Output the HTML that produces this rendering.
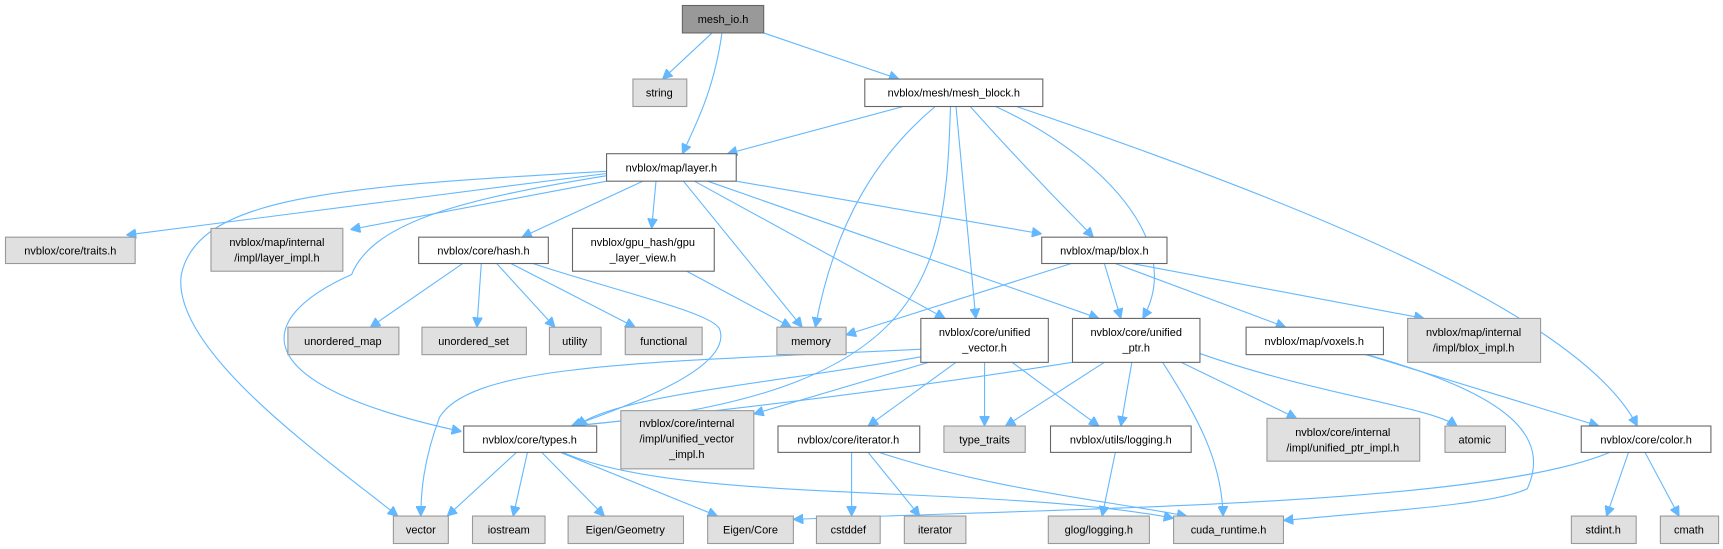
<!DOCTYPE html>
<html><head><meta charset="utf-8"><style>
html,body{margin:0;padding:0;background:#fff;}
svg{display:block;}
text{font-family:"Liberation Sans",sans-serif;font-size:10px;fill:#000;text-anchor:middle;}
.w{fill:#fff;stroke:#666;stroke-width:1;}
.g{fill:#e0e0e0;stroke:#999;stroke-width:1;}
.d{fill:#999;stroke:#666;stroke-width:1;}
path{fill:none;stroke:#63b8ff;stroke-width:1;}
</style></head><body>
<svg width="1723" height="549" viewBox="0 0 1568 500" preserveAspectRatio="none" xmlns="http://www.w3.org/2000/svg">
<defs><marker id="a" viewBox="0 0 10 10" refX="10" refY="5" markerWidth="9" markerHeight="9" orient="auto" markerUnits="userSpaceOnUse"><path d="M0,0 L10,5 L0,10 z" style="fill:#63b8ff;stroke:#63b8ff"/></marker></defs>
<g marker-end="url(#a)">
<path d="M648,30 L603,72"/>
<path d="M657,30 C650,80 635,110 621,140"/>
<path d="M695,30 L818,72"/>
<path d="M822,97 L662,140"/>
<path d="M851,97 C800,140 760,200 742,298"/>
<path d="M865,97 C860,250 850,360 520,388"/>
<path d="M870,97 L888,290"/>
<path d="M883,97 C930,150 970,190 995,216"/>
<path d="M906,97 C1000,140 1080,220 1040,290"/>
<path d="M925,97 C1200,190 1440,290 1490,388"/>
<path d="M552,158 L115,214"/>
<path d="M552,165 L319,209"/>
<path d="M552,156 C300,170 180,180 165,250 C155,320 300,420 362,470"/>
<path d="M552,160 C430,180 340,200 320,250 C230,290 220,350 420,393"/>
<path d="M585,165 L475,216"/>
<path d="M597,165 L593,208"/>
<path d="M622,165 L730,298"/>
<path d="M632,165 L860,290"/>
<path d="M644,165 L1000,290"/>
<path d="M670,165 L948,213"/>
<path d="M421,240 L337,298"/>
<path d="M438,240 L434,298"/>
<path d="M452,240 L505,298"/>
<path d="M465,240 L578,298"/>
<path d="M485,240 C560,265 650,285 655,300 C665,330 600,360 520,388"/>
<path d="M625,247 L720,298"/>
<path d="M975,240 L770,305"/>
<path d="M1005,240 L1020,290"/>
<path d="M1015,240 L1170,298"/>
<path d="M1030,240 L1296,290"/>
<path d="M838,318 C600,330 430,330 400,380 C385,420 383,450 383,470"/>
<path d="M838,325 C700,350 560,360 525,388"/>
<path d="M845,330 L686,377"/>
<path d="M870,330 L790,388"/>
<path d="M896,330 L896,388"/>
<path d="M921,330 L1000,388"/>
<path d="M976,330 C850,350 700,370 520,388"/>
<path d="M1005,330 L915,388"/>
<path d="M1030,330 L1020,388"/>
<path d="M1058,330 C1090,380 1112,420 1113,470"/>
<path d="M1075,330 L1180,381"/>
<path d="M1092,322 C1200,360 1300,370 1326,388"/>
<path d="M1240,322 L1455,388"/>
<path d="M1240,322 C1380,360 1410,400 1390,445 C1360,460 1250,466 1168,474"/>
<path d="M1465,412 C1350,460 1000,462 722,473"/>
<path d="M1482,412 L1462,470"/>
<path d="M1497,412 L1528,470"/>
<path d="M470,412 L407,470"/>
<path d="M480,412 L467,470"/>
<path d="M493,412 L550,470"/>
<path d="M510,412 L653,470"/>
<path d="M512,412 C620,460 900,440 1068,472"/>
<path d="M775,412 L775,470"/>
<path d="M790,412 L837,470"/>
<path d="M800,412 C900,445 1000,455 1080,470"/>
<path d="M1015,412 L1003,470"/>
</g>
<rect class="d" x="621" y="5" width="74" height="25"/><text x="658" y="21">mesh_io.h</text>
<rect class="g" x="576" y="72" width="49" height="25"/><text x="600" y="88">string</text>
<rect class="w" x="787" y="72" width="162" height="25"/><text x="868" y="88">nvblox/mesh/mesh_block.h</text>
<rect class="w" x="552" y="140" width="118" height="25"/><text x="611" y="156">nvblox/map/layer.h</text>
<rect class="g" x="5" y="216" width="118" height="24"/><text x="64" y="232">nvblox/core/traits.h</text>
<rect class="g" x="192" y="208" width="120" height="39"/><text x="252" y="224">nvblox/map/internal</text><text x="252" y="238">/impl/layer_impl.h</text>
<rect class="w" x="381" y="216" width="118" height="24"/><text x="440" y="232">nvblox/core/hash.h</text>
<rect class="w" x="521" y="208" width="129" height="39"/><text x="585" y="224">nvblox/gpu_hash/gpu</text><text x="585" y="238">_layer_view.h</text>
<rect class="w" x="948" y="216" width="114" height="24"/><text x="1005" y="232">nvblox/map/blox.h</text>
<rect class="g" x="262" y="298" width="101" height="25"/><text x="312" y="314">unordered_map</text>
<rect class="g" x="384" y="298" width="95" height="25"/><text x="431" y="314">unordered_set</text>
<rect class="g" x="500" y="298" width="47" height="25"/><text x="523" y="314">utility</text>
<rect class="g" x="569" y="298" width="70" height="25"/><text x="604" y="314">functional</text>
<rect class="g" x="707" y="298" width="63" height="25"/><text x="738" y="314">memory</text>
<rect class="w" x="838" y="290" width="116" height="40"/><text x="896" y="306">nvblox/core/unified</text><text x="896" y="320">_vector.h</text>
<rect class="w" x="976" y="290" width="116" height="40"/><text x="1034" y="306">nvblox/core/unified</text><text x="1034" y="320">_ptr.h</text>
<rect class="w" x="1134" y="298" width="125" height="25"/><text x="1196" y="314">nvblox/map/voxels.h</text>
<rect class="g" x="1281" y="290" width="121" height="40"/><text x="1341" y="306">nvblox/map/internal</text><text x="1341" y="320">/impl/blox_impl.h</text>
<rect class="w" x="422" y="388" width="121" height="24"/><text x="482" y="404">nvblox/core/types.h</text>
<rect class="g" x="565" y="374" width="121" height="53"/><text x="625" y="389">nvblox/core/internal</text><text x="625" y="403">/impl/unified_vector</text><text x="625" y="417">_impl.h</text>
<rect class="w" x="708" y="388" width="129" height="24"/><text x="772" y="404">nvblox/core/iterator.h</text>
<rect class="g" x="859" y="388" width="74" height="24"/><text x="896" y="404">type_traits</text>
<rect class="w" x="956" y="388" width="128" height="24"/><text x="1020" y="404">nvblox/utils/logging.h</text>
<rect class="g" x="1153" y="381" width="139" height="39"/><text x="1222" y="397">nvblox/core/internal</text><text x="1222" y="411">/impl/unified_ptr_impl.h</text>
<rect class="g" x="1315" y="388" width="55" height="24"/><text x="1342" y="404">atomic</text>
<rect class="w" x="1439" y="388" width="118" height="24"/><text x="1498" y="404">nvblox/core/color.h</text>
<rect class="g" x="358" y="470" width="50" height="25"/><text x="383" y="486">vector</text>
<rect class="g" x="430" y="470" width="66" height="25"/><text x="463" y="486">iostream</text>
<rect class="g" x="517" y="470" width="105" height="25"/><text x="569" y="486">Eigen/Geometry</text>
<rect class="g" x="644" y="470" width="78" height="25"/><text x="683" y="486">Eigen/Core</text>
<rect class="g" x="743" y="470" width="58" height="25"/><text x="772" y="486">cstddef</text>
<rect class="g" x="823" y="470" width="56" height="25"/><text x="851" y="486">iterator</text>
<rect class="g" x="954" y="470" width="92" height="25"/><text x="1000" y="486">glog/logging.h</text>
<rect class="g" x="1068" y="470" width="100" height="25"/><text x="1118" y="486">cuda_runtime.h</text>
<rect class="g" x="1430" y="470" width="59" height="25"/><text x="1459" y="486">stdint.h</text>
<rect class="g" x="1511" y="470" width="53" height="25"/><text x="1537" y="486">cmath</text>
</svg>
</body></html>
